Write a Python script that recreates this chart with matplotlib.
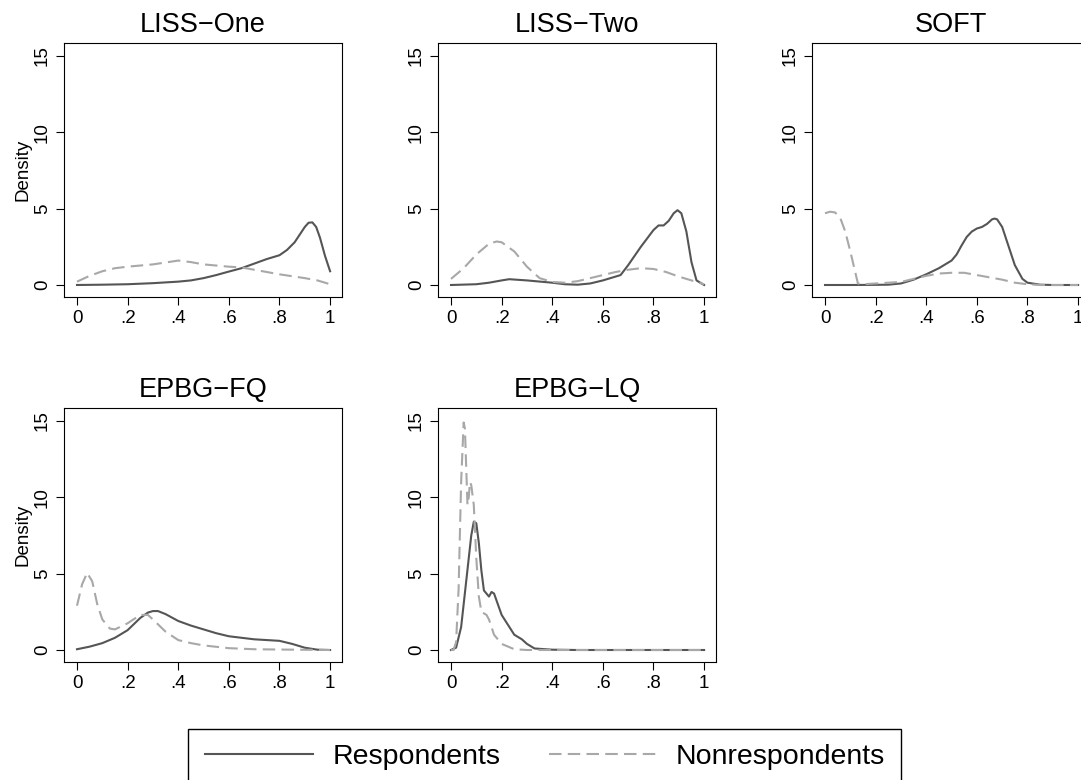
import matplotlib.pyplot as plt
from matplotlib.patches import Rectangle
import numpy as np

plt.rcParams['font.family'] = ['Liberation Sans', 'DejaVu Sans']

titles = ['LISS\u2212One', 'LISS\u2212Two', 'SOFT', 'EPBG\u2212FQ', 'EPBG\u2212LQ']

# LISS-One
l1_rx = [0, 0.1, 0.2, 0.3, 0.4, 0.45, 0.5, 0.55, 0.6, 0.65, 0.7, 0.75, 0.8, 0.83, 0.86, 0.88, 0.9, 0.915, 0.93, 0.945, 0.96, 0.98, 1.0]
l1_ry = [0, 0.02, 0.05, 0.12, 0.22, 0.3, 0.45, 0.65, 0.88, 1.1, 1.4, 1.7, 1.95, 2.3, 2.8, 3.3, 3.8, 4.08, 4.1, 3.8, 3.1, 1.9, 0.9]
l1_nx = [0, 0.05, 0.1, 0.15, 0.2, 0.3, 0.4, 0.45, 0.5, 0.6, 0.65, 0.7, 0.8, 0.9, 0.95, 1.0]
l1_ny = [0.22, 0.6, 0.9, 1.1, 1.2, 1.35, 1.6, 1.5, 1.35, 1.2, 1.15, 1.0, 0.7, 0.45, 0.3, 0.05]

# LISS-Two
l2_rx = [0, 0.1, 0.15, 0.2, 0.23, 0.3, 0.4, 0.45, 0.5, 0.55, 0.6, 0.65, 0.67, 0.7, 0.75, 0.8, 0.82, 0.84, 0.86, 0.88, 0.895, 0.91, 0.93, 0.95, 0.97, 1.0]
l2_ry = [0, 0.05, 0.15, 0.3, 0.38, 0.3, 0.15, 0.05, 0.02, 0.1, 0.3, 0.55, 0.65, 1.3, 2.5, 3.6, 3.9, 3.9, 4.2, 4.7, 4.9, 4.7, 3.5, 1.5, 0.3, 0.0]
l2_nx = [0, 0.05, 0.1, 0.15, 0.18, 0.2, 0.25, 0.3, 0.35, 0.4, 0.45, 0.5, 0.55, 0.6, 0.65, 0.7, 0.75, 0.8, 0.85, 0.9, 0.95, 1.0]
l2_ny = [0.4, 1.1, 2.0, 2.7, 2.85, 2.8, 2.2, 1.2, 0.45, 0.2, 0.15, 0.25, 0.45, 0.65, 0.85, 1.0, 1.1, 1.05, 0.85, 0.55, 0.3, 0.05]

# SOFT
s_rx = [0, 0.1, 0.2, 0.25, 0.3, 0.35, 0.4, 0.45, 0.48, 0.5, 0.52, 0.54, 0.56, 0.58, 0.6, 0.62, 0.64, 0.66, 0.67, 0.68, 0.7, 0.72, 0.75, 0.78, 0.8, 0.85, 0.9, 1.0]
s_ry = [0, 0, 0.01, 0.02, 0.1, 0.35, 0.7, 1.1, 1.4, 1.6, 2.0, 2.6, 3.15, 3.5, 3.7, 3.8, 4.0, 4.3, 4.35, 4.3, 3.8, 2.8, 1.3, 0.4, 0.15, 0.02, 0, 0]
s_nx = [0, 0.02, 0.04, 0.06, 0.08, 0.1, 0.12, 0.13, 0.15, 0.2, 0.3, 0.35, 0.4, 0.45, 0.5, 0.55, 0.6, 0.65, 0.7, 0.75, 0.8, 0.85, 1.0]
s_ny = [4.7, 4.8, 4.75, 4.4, 3.5, 2.2, 0.8, 0.1, 0.05, 0.1, 0.2, 0.4, 0.6, 0.75, 0.8, 0.8, 0.65, 0.5, 0.35, 0.15, 0.05, 0.0, 0.0]

# EPBG-FQ
fq_rx = [0, 0.05, 0.1, 0.15, 0.2, 0.25, 0.28, 0.3, 0.32, 0.35, 0.4, 0.45, 0.5, 0.55, 0.6, 0.7, 0.8, 0.85, 0.9, 0.95, 1.0]
fq_ry = [0.05, 0.22, 0.45, 0.8, 1.3, 2.1, 2.45, 2.55, 2.55, 2.35, 1.9, 1.6, 1.35, 1.1, 0.9, 0.7, 0.6, 0.4, 0.15, 0.02, 0]
fq_nx = [0, 0.02, 0.04, 0.06, 0.08, 0.1, 0.13, 0.15, 0.2, 0.25, 0.28, 0.3, 0.35, 0.4, 0.45, 0.5, 0.6, 0.7, 0.8, 1.0]
fq_ny = [2.9, 4.3, 5.05, 4.5, 3.0, 2.0, 1.4, 1.35, 1.75, 2.3, 2.3, 2.0, 1.2, 0.65, 0.45, 0.3, 0.12, 0.05, 0.03, 0]

# EPBG-LQ
lq_rx = [0, 0.02, 0.04, 0.06, 0.08, 0.09, 0.1, 0.11, 0.12, 0.13, 0.15, 0.16, 0.17, 0.2, 0.25, 0.28, 0.3, 0.33, 0.4, 0.5, 1.0]
lq_ry = [0, 0.15, 1.5, 4.5, 7.5, 8.4, 8.3, 7.0, 5.2, 3.9, 3.5, 3.8, 3.7, 2.3, 1.0, 0.7, 0.4, 0.1, 0.02, 0, 0]
lq_nx = [0, 0.01, 0.02, 0.03, 0.04, 0.05, 0.055, 0.06, 0.065, 0.07, 0.075, 0.08, 0.09, 0.1, 0.11, 0.12, 0.14, 0.15, 0.17, 0.2, 0.25, 0.3, 1.0]
lq_ny = [0, 0, 0.5, 4, 11, 14.9, 14.5, 12, 9.5, 10, 11, 10.8, 9.5, 6, 3.5, 2.5, 2.3, 2.0, 1.0, 0.4, 0.05, 0, 0]

resp = [(l1_rx, l1_ry), (l2_rx, l2_ry), (s_rx, s_ry), (fq_rx, fq_ry), (lq_rx, lq_ry)]
nonresp = [(l1_nx, l1_ny), (l2_nx, l2_ny), (s_nx, s_ny), (fq_nx, fq_ny), (lq_nx, lq_ny)]

fig = plt.figure(figsize=(10.81, 7.8), dpi=100)
W, H = 1081, 780
lefts = [64, 438, 812]
tops = [43, 408]
pw, ph = 278, 254

for i in range(5):
    r, c = divmod(i, 3)
    ax = fig.add_axes([lefts[c] / W, 1 - (tops[r] + ph) / H, pw / W, ph / H])
    ax.plot(resp[i][0], resp[i][1], color='#555555', lw=1.5, label='Respondents')
    ax.plot(nonresp[i][0], nonresp[i][1], color='#a8a8a8', lw=1.5, ls=(0, (6, 3)), label='Nonrespondents')
    ax.set_xlim(-0.0514, 1.047)
    ax.set_ylim(-0.786, 15.85)
    ax.set_xticks([0, 0.2, 0.4, 0.6, 0.8, 1])
    ax.set_xticklabels(['0', '.2', '.4', '.6', '.8', '1'])
    ax.set_yticks([0, 5, 10, 15])
    ax.set_yticklabels(['0', '5', '10', '15'], rotation=90, va='center')
    ax.tick_params(labelsize=13.5, length=6, width=0.8)
    ax.set_title(titles[i], fontsize=19.5, pad=8)
    if c == 0:
        ax.set_ylabel('Density', fontsize=13.5, labelpad=2)
    if i == 0:
        handles, labels = ax.get_legend_handles_labels()

# legend box, running off the bottom edge as in the original
fig.add_artist(Rectangle((188 / W, 1 - 795 / H), (901 - 188) / W, 66 / H,
                         transform=fig.transFigure, fill=False, ec='black', lw=1.0))
fig.legend(handles, labels, loc='center', bbox_to_anchor=(545 / W, 1 - 757 / H),
           ncol=2, fontsize=20.5, frameon=False,
           handlelength=3.8, handletextpad=0.66, columnspacing=1.7, borderpad=0,
           borderaxespad=0)

fig.savefig('out.png', dpi=100)
